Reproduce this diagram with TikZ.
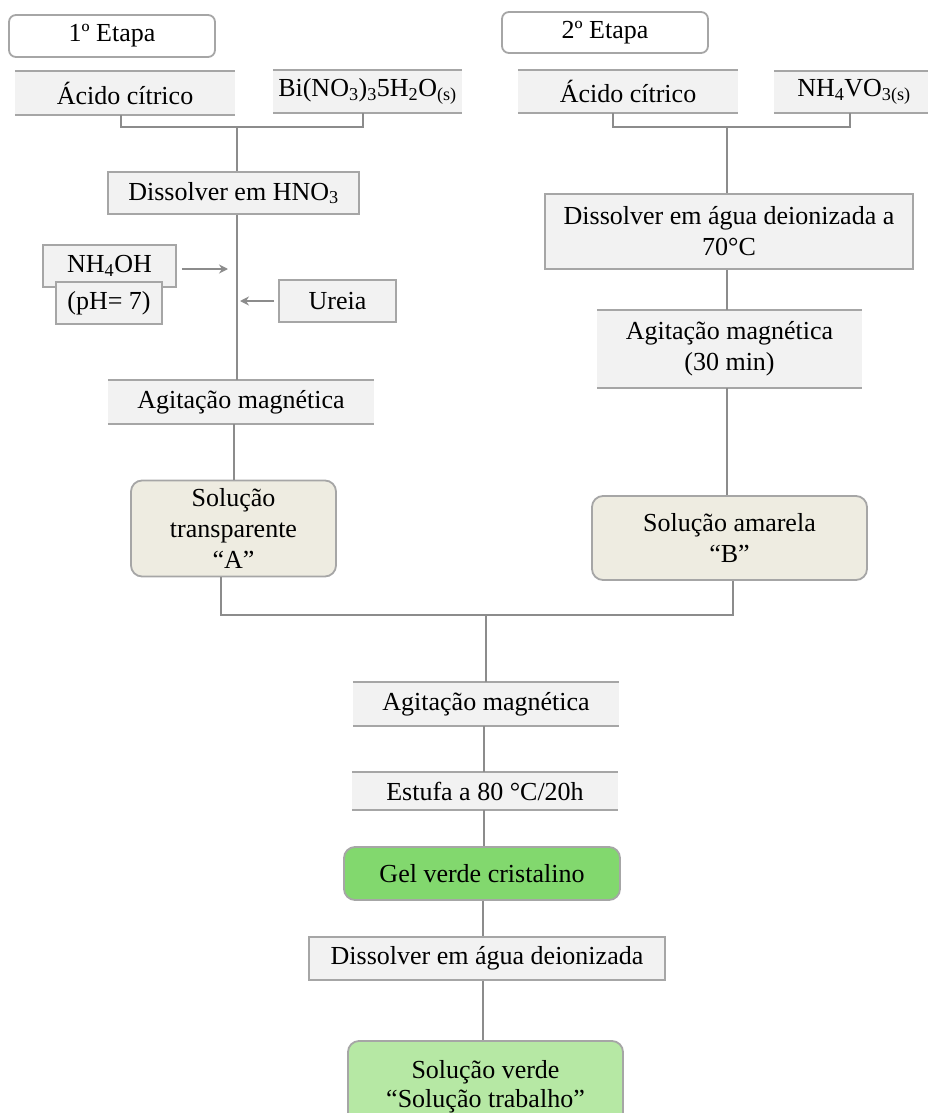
\documentclass[tikz,border=0pt]{standalone}
\usepackage{fontspec}
\setmainfont{Liberation Serif}
\usetikzlibrary{arrows.meta}
\definecolor{lc}{HTML}{8C8C8C}
\definecolor{bc}{HTML}{A6A6A6}
\definecolor{bf}{HTML}{F2F2F2}
\definecolor{tan}{HTML}{EEECE1}
\definecolor{gelg}{HTML}{82D86E}
\definecolor{lgreen}{HTML}{B6E8A4}
\begin{document}
\begin{tikzpicture}[x=1pt,y=-1pt,
  every node/.style={inner sep=0pt, align=center, font=\fontsize{26}{31}\selectfont},
  etapa/.style={draw=bc, fill=white, line width=1.8pt, rounded corners=7pt},
  full/.style={draw=bc, fill=bf, line width=1.8pt},
  tb/.style={fill=bf},
  sol/.style={draw=bc, line width=1.8pt, rounded corners=11pt},
  conn/.style={draw=lc, line width=2pt},
  arr/.style={draw=lc, line width=2.2pt, -{Stealth[length=9pt,width=9pt]}}]
\useasboundingbox (0,0) rectangle (928,1113);

% top labels
\node[etapa, minimum width=206pt, minimum height=42pt] (et1) at (112,36) {1º Etapa};
\node[etapa, minimum width=206pt, minimum height=41pt] (et2) at (605,32.5) {2º Etapa};

% stage 1 inputs
\node[tb, minimum width=220pt, minimum height=44pt] (ac1) at (125,93) {Ácido cítrico};
\node[tb, minimum width=189pt, minimum height=43pt] (bi) at (367.5,91.5) {Bi(NO\textsubscript{3})\textsubscript{3}5H\textsubscript{2}O\textsubscript{(s)}};
% stage 2 inputs
\node[tb, minimum width=160pt, minimum height=42pt] (nh4vo3) at (854,92) {NH\textsubscript{4}VO\textsubscript{3(s)}};
\node[tb, minimum width=220pt, minimum height=43pt] (ac2) at (628,91.5) {Ácido cítrico};

% stage 1 flow
\node[full, minimum width=251pt, minimum height=42pt] (dis1) at (233.5,193) {Dissolver em HNO\textsubscript{3}};
\node[full, minimum width=133pt, minimum height=42pt] (nh4oh) at (109.5,266) {NH\textsubscript{4}OH};
\node[full, minimum width=106pt, minimum height=42pt] (ph) at (109,303) {(pH= 7)};
\node[full, minimum width=117pt, minimum height=42pt] (ureia) at (337.5,301) {Ureia};
\node[tb, minimum width=266pt, minimum height=44pt] (ag1) at (241,402) {Agitação magnética};
\node[sol, fill=tan, minimum width=205pt, minimum height=96pt] (solA) at (233.5,528.5) {Solução\\transparente\\“A”};

% stage 2 flow
\node[full, minimum width=368pt, minimum height=75pt] (dis2) at (729,231.5) {Dissolver em água deionizada a\\70°C};
\node[tb, minimum width=265pt, minimum height=78pt] (ag2) at (729.5,349) {Agitação magnética\\(30 min)};
\node[sol, fill=tan, minimum width=275pt, minimum height=84pt] (solB) at (729.5,538) {Solução amarela\\“B”};

% common flow
\node[tb, minimum width=266pt, minimum height=44pt] (ag3) at (486,704) {Agitação magnética};
\node[tb, minimum width=266pt, minimum height=38pt] (est) at (485,791) {Estufa a 80 °C/20h};
\node[sol, fill=gelg, minimum width=276pt, minimum height=53pt] (gel) at (482,873.5) {Gel verde cristalino};
\node[full, minimum width=356pt, minimum height=43pt] (dis3) at (487,958.5) {Dissolver em água deionizada};
\node[sol, fill=lgreen, minimum width=275pt, minimum height=90pt] (solv) at (485.5,1086) {};
\node[font=\fontsize{26}{29}\selectfont] (solvtxt) at (485.5,1087) {Solução verde\\“Solução trabalho”};

% top/bottom rules of the open boxes
\foreach \n in {ac1,bi,ac2,nh4vo3,ag1,ag2,ag3,est}
  \draw[draw=bc, line width=1.8pt] (\n.north west) -- (\n.north east) (\n.south west) -- (\n.south east);

% connectors stage 1
\coordinate (j1) at (237,127);
\draw[conn] ([xshift=-4pt]ac1.south) |- (j1) -| ([xshift=-5pt]bi.south);
\draw[conn] (j1) -- (j1 |- dis1.north);
\draw[conn] ([xshift=3pt]dis1.south) -- ([xshift=3pt]dis1.south |- ag1.north);
\draw[conn] ([xshift=-7pt]ag1.south) -- ([xshift=-7pt]ag1.south |- solA.north);
\coordinate (nhEnd) at (228,269);
\coordinate (urEnd) at (240,301);
\draw[arr] ([xshift=5pt,yshift=-3pt]nh4oh.east) -- (nhEnd);
\draw[arr] ([xshift=-4pt]ureia.west) -- (urEnd);

% connectors stage 2
\coordinate (j2) at (727,127);
\draw[conn] ([xshift=-15pt]ac2.south) |- (j2) -| ([xshift=-4pt]nh4vo3.south);
\draw[conn] (j2) -- (j2 |- dis2.north);
\draw[conn] ([xshift=-2pt]dis2.south) -- ([xshift=-2pt]dis2.south |- ag2.north);
\draw[conn] ([xshift=-2.5pt]ag2.south) -- ([xshift=-2.5pt]ag2.south |- solB.north);

% merge
\coordinate (j3) at (486,615);
\draw[conn] ([xshift=-12.5pt]solA.south) |- (j3) -| ([xshift=3.5pt]solB.south);
\draw[conn] (j3) -- (j3 |- ag3.north);
\draw[conn] ([xshift=-2pt]ag3.south) -- ([xshift=-2pt]ag3.south |- est.north);
\draw[conn] ([xshift=-1pt]est.south) -- ([xshift=-1pt]est.south |- gel.north);
\draw[conn] ([xshift=1pt]gel.south) -- ([xshift=1pt]gel.south |- dis3.north);
\draw[conn] ([xshift=-4pt]dis3.south) -- ([xshift=-4pt]dis3.south |- solv.north);
\end{tikzpicture}
\end{document}
